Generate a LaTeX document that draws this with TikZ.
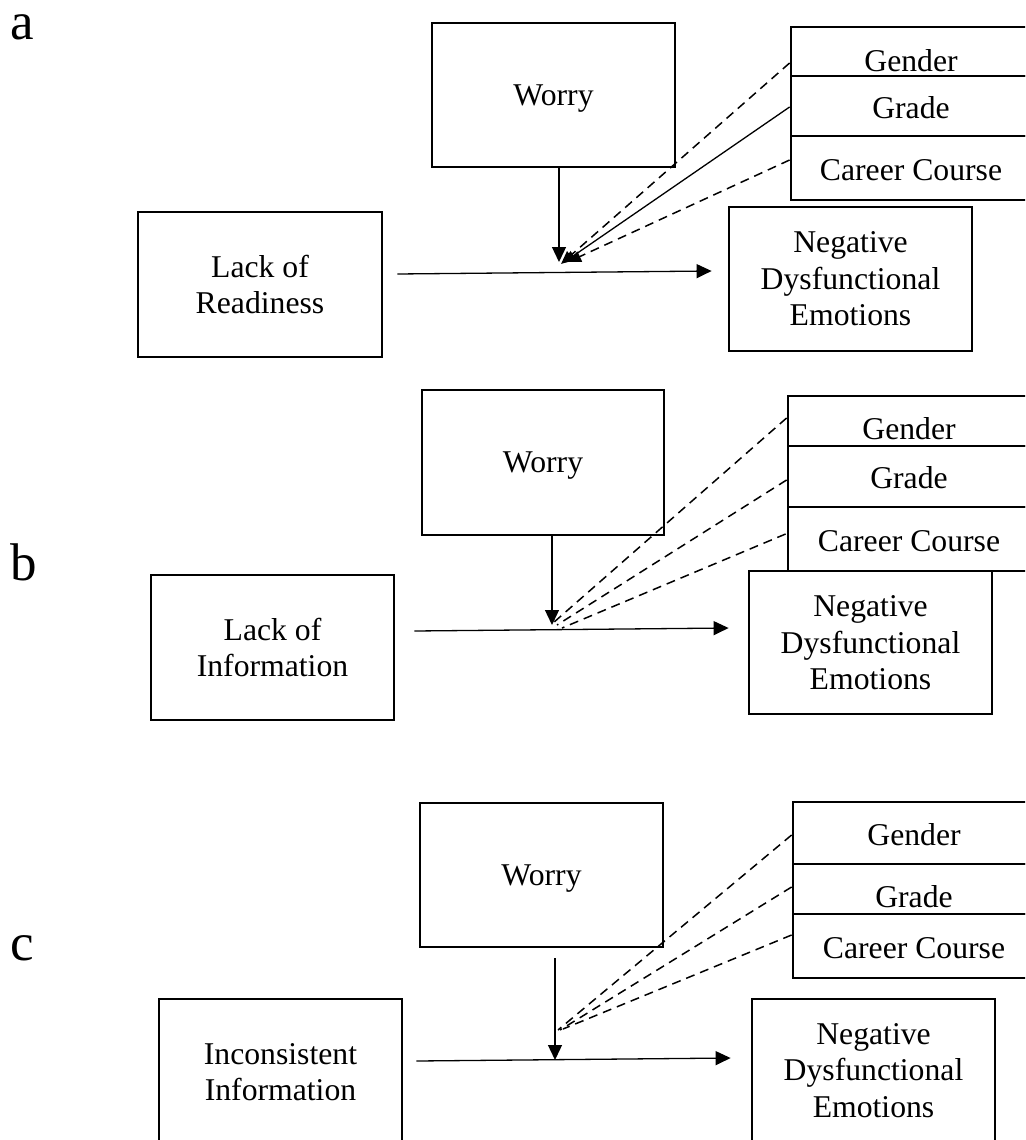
\documentclass[tikz,border=0pt]{standalone}
\usepackage{fontspec}
\setmainfont{Liberation Serif}
\usetikzlibrary{arrows.meta}
\tikzset{
  boxn/.style={draw, line width=2.8pt, inner sep=0pt, align=center, text depth=0pt,
    minimum width=243pt, font=\fontsize{31.7}{36.5}\selectfont},
  rown/.style={draw, line width=2.8pt, inner sep=0pt, minimum width=243pt},
  rowtxt/.style={anchor=base, inner sep=0pt, font=\fontsize{31.7}{36.5}\selectfont},
  lbl/.style={anchor=base west, inner sep=0pt, font=\fontsize{53}{60}\selectfont},
  arr/.style={line width=1.3pt, -{Triangle[length=15pt,width=14pt]}},
  marr/.style={line width=1.3pt, -{Triangle[length=13pt,width=11pt]}},
  dsh/.style={line width=1.5pt, dash pattern=on 9pt off 6pt},
}
\begin{document}
\begin{tikzpicture}[x=1pt, y=-1pt]
\useasboundingbox (0,0) rectangle (1025,1140);
\clip (0,0) rectangle (1025,1140);

% ---------- panel a ----------
\node[lbl] (la0) at (10,40) {a};
\node[boxn, minimum height=144pt] (wa) at (553.5,95) {Worry};
\node[boxn, minimum height=145pt, minimum width=244pt] (la) at (260,284.5) {Lack of\\Readiness};
\node[boxn, minimum height=144pt] (na) at (850.5,279) {Negative\\Dysfunctional\\Emotions};
\node[rown, minimum height=49pt] (ga) at (912.5,51.5) {};
\node[rown, minimum height=60pt] (ra) at (912.5,106) {};
\node[rown, minimum height=64pt] (ka) at (912.5,168) {};
\node[rowtxt] (tga) at (911,71) {Gender};
\node[rowtxt] (tra) at (911,118) {Grade};
\node[rowtxt] (tka) at (911,180) {Career Course};
\coordinate (xa) at (559,263);
\draw[arr] ([xshift=14pt,yshift=10.5pt]la.east) -- ([xshift=-16pt,yshift=8pt]na.west);
\draw[arr] ([xshift=5.5pt]wa.south) -- ([yshift=1pt]xa);
\draw[marr,dsh] ([yshift=-11.5pt]ga.west) -- ([xshift=2pt,yshift=-1pt]xa);
\draw[marr] ([yshift=-1pt]ra.west) -- ([xshift=4pt]xa);
\draw[marr,dsh] ([yshift=8pt]ka.west) -- ([xshift=9pt,yshift=1pt]xa);

% ---------- panel b ----------
\node[lbl] (lb0) at (10,580) {b};
\node[boxn, minimum height=145pt, minimum width=242pt] (wb) at (543,462.5) {Worry};
\node[boxn, minimum height=145pt] (lb) at (272.5,647.5) {Lack of\\Information};
\node[boxn, minimum height=143pt] (nb) at (870.5,642.5) {Negative\\Dysfunctional\\Emotions};
\node[rown, minimum height=50pt] (gb) at (909.5,421) {};
\node[rown, minimum height=61pt] (rb) at (909.5,476.5) {};
\node[rown, minimum height=64pt] (kb) at (909.5,539) {};
\node[rowtxt] (tgb) at (909,439) {Gender};
\node[rowtxt] (trb) at (909,488) {Grade};
\node[rowtxt] (tkb) at (909,551) {Career Course};
\coordinate (xb) at (552,625);
\draw[arr] ([xshift=19pt,yshift=16.5pt]lb.east) -- ([xshift=-19pt,yshift=14.5pt]nb.west);
\draw[arr] ([xshift=9pt]wb.south) -- (xb);
\draw[dsh] ([yshift=3pt]gb.west) -- ([xshift=1pt,yshift=2pt]xb);
\draw[dsh] ([yshift=-3.5pt]rb.west) -- ([xshift=5pt]xb);
\draw[dsh] ([xshift=-1pt,yshift=5pt]kb.west) -- ([xshift=10pt,yshift=-3pt]xb);

% ---------- panel c ----------
\node[lbl] (lc0) at (10,960) {c};
\node[boxn, minimum height=144pt] (wc) at (541.5,875) {Worry};
\node[boxn, minimum height=146pt] (ic) at (280.5,1072) {Inconsistent\\Information};
\node[boxn, minimum height=142pt] (nc) at (873.5,1070) {Negative\\Dysfunctional\\Emotions};
\node[rown, minimum height=62pt] (gc) at (914.5,833) {};
\node[rown, minimum height=50pt] (rc) at (914.5,889) {};
\node[rown, minimum height=64pt] (kc) at (914.5,946) {};
\node[rowtxt] (tgc) at (914,845) {Gender};
\node[rowtxt] (trc) at (914,907) {Grade};
\node[rowtxt] (tkc) at (914,958) {Career Course};
\coordinate (xc) at (555,1060);
\coordinate (mc) at (560,1030);
\draw[arr] ([xshift=13pt,yshift=11pt]ic.east) -- ([xshift=-20pt,yshift=12pt]nc.west);
\draw[arr] ([xshift=13.5pt,yshift=-10pt]wc.south) -- (xc);
\draw[dsh] ([yshift=-2pt]gc.west) -- ([xshift=-2pt]mc);
\draw[dsh] ([yshift=2pt]rc.west) -- (mc);
\draw[dsh] ([yshift=11pt]kc.west) -- ([xshift=3pt,yshift=1pt]mc);
\end{tikzpicture}
\end{document}
